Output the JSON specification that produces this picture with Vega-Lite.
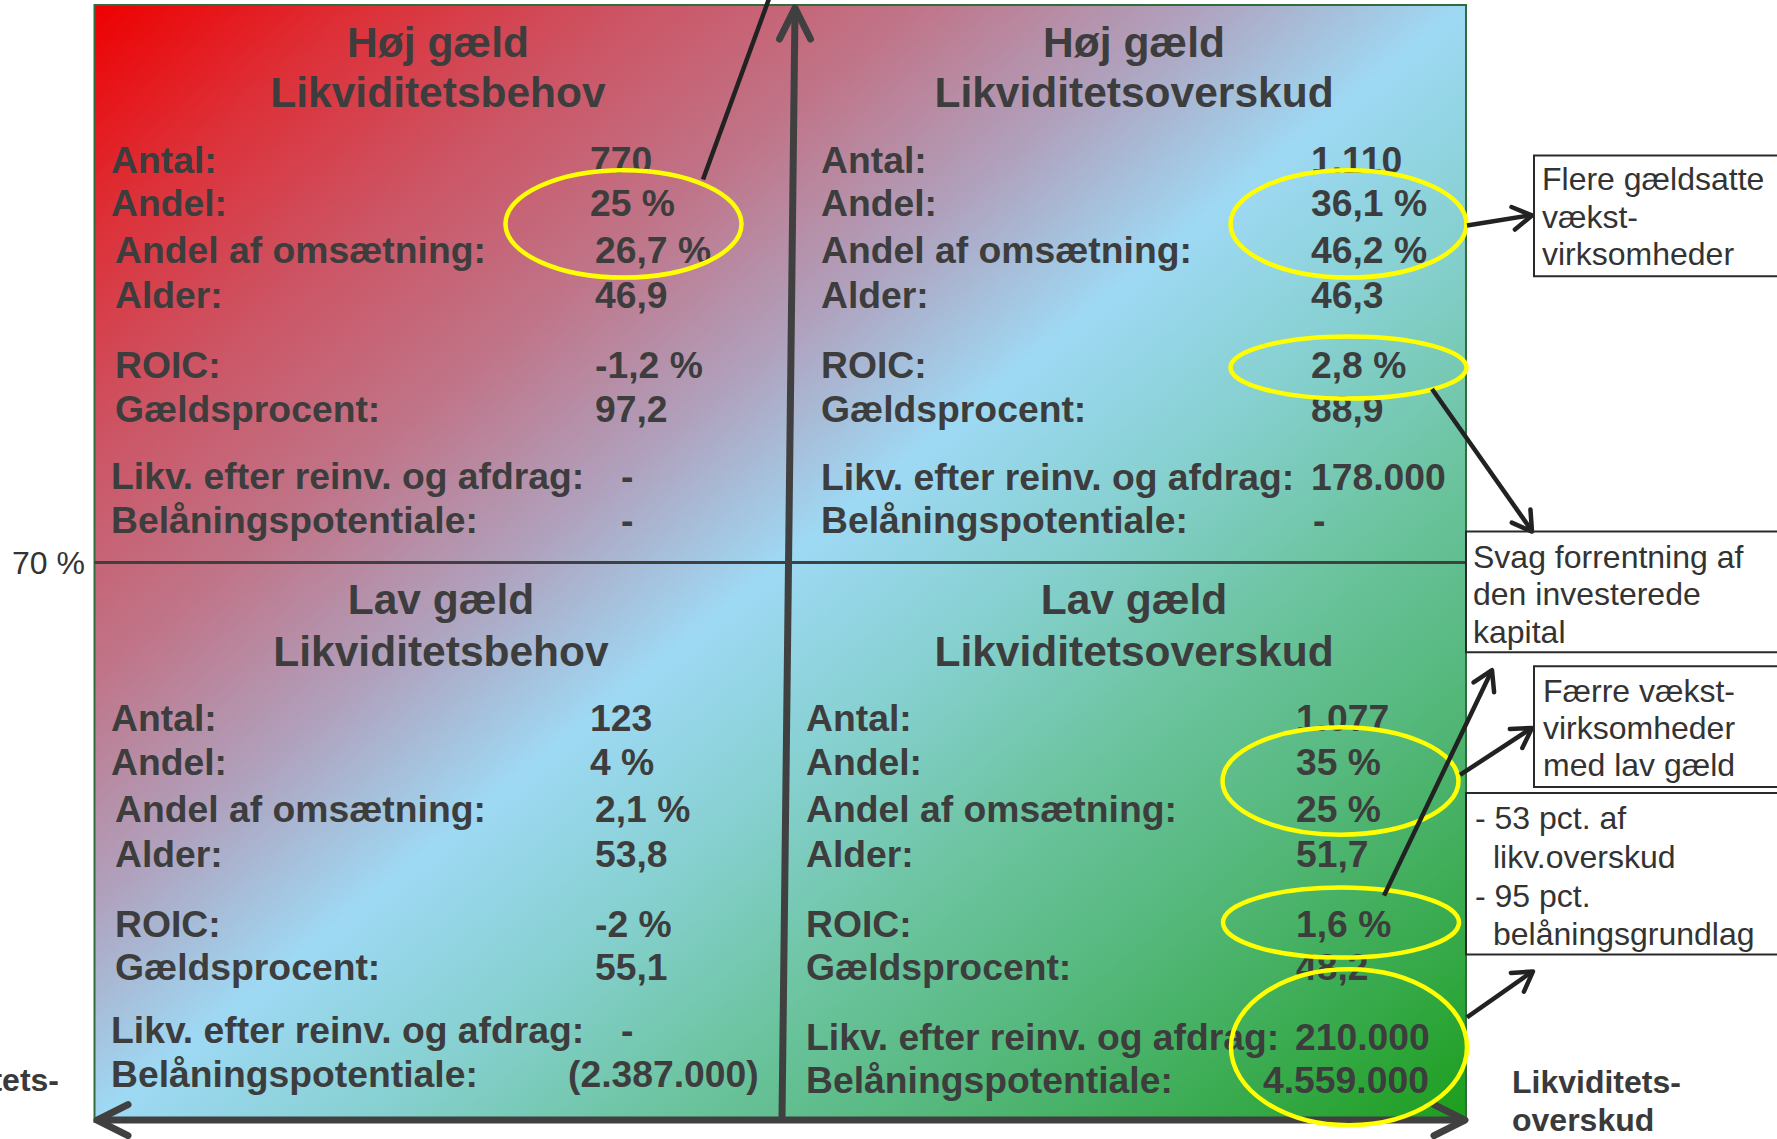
{
  "$schema": "https://vega.github.io/schema/vega-lite/v6.json",
  "autosize": {"type": "fit", "contains": "padding"},
  "width": 1777,
  "height": 1139,
  "padding": 0,
  "background": "white",
  "config": {"view": {"stroke": null}},
  "datasets": {
    "bg": [{"x": 94.5, "x2": 1466, "y": 5, "y2": 1125}],
    "divider": [{"x": 94.5, "x2": 1466, "y": 564, "y2": 564}],
    "axisShafts": [
      {"x": 782, "y": 1122, "x2": 795, "y2": 10},
      {"x": 99, "y": 1123, "x2": 1463, "y2": 1123}
    ],
    "axisHeads": [
      {"x": 795, "y": 8, "dir": -90},
      {"x": 97, "y": 1123, "dir": 180},
      {"x": 1465, "y": 1123, "dir": 0}
    ],
    "titles": [
      {"x": 438, "y": 57, "text": "Høj gæld"},
      {"x": 438, "y": 107, "text": "Likviditetsbehov"},
      {"x": 1134, "y": 57, "text": "Høj gæld"},
      {"x": 1134, "y": 107, "text": "Likviditetsoverskud"},
      {"x": 441, "y": 616, "text": "Lav gæld"},
      {"x": 441, "y": 668, "text": "Likviditetsbehov"},
      {"x": 1134, "y": 616, "text": "Lav gæld"},
      {"x": 1134, "y": 668, "text": "Likviditetsoverskud"}
    ],
    "cells": [
      {"x": 111, "y": 173, "text": "Antal:"},
      {"x": 111, "y": 217, "text": "Andel:"},
      {"x": 115, "y": 264, "text": "Andel af omsætning:"},
      {"x": 115, "y": 309, "text": "Alder:"},
      {"x": 115, "y": 379, "text": "ROIC:"},
      {"x": 115, "y": 423, "text": "Gældsprocent:"},
      {"x": 111, "y": 490, "text": "Likv. efter reinv. og afdrag:"},
      {"x": 111, "y": 534, "text": "Belåningspotentiale:"},
      {"x": 590, "y": 173, "text": "770"},
      {"x": 590, "y": 217, "text": "25 %"},
      {"x": 595, "y": 264, "text": "26,7 %"},
      {"x": 595, "y": 309, "text": "46,9"},
      {"x": 595, "y": 379, "text": "-1,2 %"},
      {"x": 595, "y": 423, "text": "97,2"},
      {"x": 621, "y": 490, "text": "-"},
      {"x": 621, "y": 534, "text": "-"},
      {"x": 821, "y": 173, "text": "Antal:"},
      {"x": 821, "y": 217, "text": "Andel:"},
      {"x": 821, "y": 264, "text": "Andel af omsætning:"},
      {"x": 821, "y": 309, "text": "Alder:"},
      {"x": 821, "y": 379, "text": "ROIC:"},
      {"x": 821, "y": 423, "text": "Gældsprocent:"},
      {"x": 821, "y": 491, "text": "Likv. efter reinv. og afdrag:"},
      {"x": 821, "y": 534, "text": "Belåningspotentiale:"},
      {"x": 1311, "y": 173, "text": "1.110"},
      {"x": 1311, "y": 217, "text": "36,1 %"},
      {"x": 1311, "y": 264, "text": "46,2 %"},
      {"x": 1311, "y": 309, "text": "46,3"},
      {"x": 1311, "y": 379, "text": "2,8 %"},
      {"x": 1311, "y": 423, "text": "88,9"},
      {"x": 1311, "y": 491, "text": "178.000"},
      {"x": 1313, "y": 534, "text": "-"},
      {"x": 111, "y": 733, "text": "Antal:"},
      {"x": 111, "y": 777, "text": "Andel:"},
      {"x": 115, "y": 824, "text": "Andel af omsætning:"},
      {"x": 115, "y": 869, "text": "Alder:"},
      {"x": 115, "y": 939, "text": "ROIC:"},
      {"x": 115, "y": 983, "text": "Gældsprocent:"},
      {"x": 111, "y": 1046, "text": "Likv. efter reinv. og afdrag:"},
      {"x": 111, "y": 1090, "text": "Belåningspotentiale:"},
      {"x": 590, "y": 733, "text": "123"},
      {"x": 590, "y": 777, "text": "4 %"},
      {"x": 595, "y": 824, "text": "2,1 %"},
      {"x": 595, "y": 869, "text": "53,8"},
      {"x": 595, "y": 939, "text": "-2 %"},
      {"x": 595, "y": 983, "text": "55,1"},
      {"x": 621, "y": 1046, "text": "-"},
      {"x": 568, "y": 1090, "text": "(2.387.000)"},
      {"x": 806, "y": 733, "text": "Antal:"},
      {"x": 806, "y": 777, "text": "Andel:"},
      {"x": 806, "y": 824, "text": "Andel af omsætning:"},
      {"x": 806, "y": 869, "text": "Alder:"},
      {"x": 806, "y": 939, "text": "ROIC:"},
      {"x": 806, "y": 983, "text": "Gældsprocent:"},
      {"x": 806, "y": 1053, "text": "Likv. efter reinv. og afdrag:"},
      {"x": 806, "y": 1096, "text": "Belåningspotentiale:"},
      {"x": 1296, "y": 733, "text": "1.077"},
      {"x": 1296, "y": 777, "text": "35 %"},
      {"x": 1296, "y": 824, "text": "25 %"},
      {"x": 1296, "y": 869, "text": "51,7"},
      {"x": 1296, "y": 939, "text": "1,6 %"},
      {"x": 1296, "y": 983, "text": "48,2"},
      {"x": 1295, "y": 1053, "text": "210.000"},
      {"x": 1263, "y": 1096, "text": "4.559.000"}
    ],
    "ellipses": [
      {"x": 623.5, "y": 224.5, "kind": "a"},
      {"x": 1348.5, "y": 224.5, "kind": "a"},
      {"x": 1348.5, "y": 368.5, "kind": "b"},
      {"x": 1340.5, "y": 783, "kind": "a"},
      {"x": 1341, "y": 925, "kind": "c"},
      {"x": 1349, "y": 1050, "kind": "d"}
    ],
    "thin": [
      {"x": 703, "y": 180, "x2": 770, "y2": -4},
      {"x": 1467, "y": 226, "x2": 1530, "y2": 216},
      {"x": 1432, "y": 390, "x2": 1531, "y2": 531},
      {"x": 1384, "y": 898, "x2": 1491, "y2": 674},
      {"x": 1460, "y": 777, "x2": 1530, "y2": 731},
      {"x": 1467, "y": 1020, "x2": 1531, "y2": 975}
    ],
    "thinHeads": [
      {"x": 1532, "y": 216, "dir": -8.7},
      {"x": 1532, "y": 533, "dir": 55},
      {"x": 1492, "y": 672, "dir": -64.5},
      {"x": 1532, "y": 730, "dir": -33.1},
      {"x": 1533, "y": 974, "dir": -34.9}
    ],
    "boxes": [
      {"x": 1534, "x2": 1800, "y": 156, "y2": 277},
      {"x": 1466, "x2": 1800, "y": 533, "y2": 654},
      {"x": 1534, "x2": 1800, "y": 668, "y2": 789},
      {"x": 1466, "x2": 1800, "y": 795, "y2": 957}
    ],
    "notes": [
      {"x": 1542, "y": 191, "text": "Flere gældsatte"},
      {"x": 1542, "y": 229, "text": "vækst-"},
      {"x": 1542, "y": 266, "text": "virksomheder"},
      {"x": 1473, "y": 569, "text": "Svag forrentning af"},
      {"x": 1473, "y": 607, "text": "den investerede"},
      {"x": 1473, "y": 645, "text": "kapital"},
      {"x": 1543, "y": 704, "text": "Færre vækst-"},
      {"x": 1543, "y": 741, "text": "virksomheder"},
      {"x": 1543, "y": 778, "text": "med lav gæld"},
      {"x": 1475, "y": 831, "text": "- 53 pct. af"},
      {"x": 1493, "y": 870, "text": "likv.overskud"},
      {"x": 1475, "y": 909, "text": "- 95 pct."},
      {"x": 1493, "y": 947, "text": "belåningsgrundlag"},
      {"x": 12, "y": 576, "text": "70 %"}
    ],
    "axisTitlesRight": [
      {"x": 1512, "y": 1096, "text": "Likviditets-"},
      {"x": 1512, "y": 1134, "text": "overskud"}
    ],
    "axisTitlesLeft": [
      {"x": 59, "y": 1094, "text": "Likviditets-"}
    ]
  },
  "encoding": {
    "x": {"field": "x", "type": "quantitative", "scale": {"domain": [0, 1777], "nice": false, "zero": false}, "axis": null},
    "y": {"field": "y", "type": "quantitative", "scale": {"domain": [0, 1139], "nice": false, "zero": false, "reverse": true}, "axis": null}
  },
  "layer": [
    {
      "data": {"name": "bg"},
      "mark": {
        "type": "rect",
        "stroke": "#2f6e3c",
        "strokeWidth": 2,
        "fill": {
          "gradient": "linear", "x1": 0, "y1": 0, "x2": 1, "y2": 1,
          "stops": [
            {"offset": 0, "color": "#ee0000"},
            {"offset": 0.1, "color": "#dd3038"},
            {"offset": 0.2, "color": "#cc5565"},
            {"offset": 0.3, "color": "#c07488"},
            {"offset": 0.4, "color": "#b0a0bc"},
            {"offset": 0.5, "color": "#9ed9f4"},
            {"offset": 0.6, "color": "#86d0d0"},
            {"offset": 0.7, "color": "#6cc4a0"},
            {"offset": 0.8, "color": "#55b87c"},
            {"offset": 0.9, "color": "#3aab50"},
            {"offset": 1, "color": "#1c9e1c"}
          ]
        }
      },
      "encoding": {"x2": {"field": "x2"}, "y2": {"field": "y2"}}
    },
    {
      "data": {"name": "divider"},
      "mark": {"type": "rule", "color": "#404040", "strokeWidth": 3},
      "encoding": {"x2": {"field": "x2"}, "y2": {"field": "y2"}}
    },
    {
      "data": {"name": "axisShafts"},
      "mark": {"type": "rule", "color": "#404040", "strokeWidth": 7},
      "encoding": {"x2": {"field": "x2"}, "y2": {"field": "y2"}}
    },
    {
      "data": {"name": "axisHeads"},
      "mark": {"type": "point", "shape": "M-1,-0.5L0,0L-1,0.5", "filled": false, "stroke": "#404040", "strokeWidth": 7, "strokeCap": "round", "strokeJoin": "round", "opacity": 1, "size": 3844},
      "encoding": {"angle": {"field": "dir", "type": "quantitative", "scale": null}}
    },
    {
      "data": {"name": "titles"},
      "mark": {"type": "text", "align": "center", "baseline": "alphabetic", "font": "Liberation Sans, Arial, sans-serif", "fontWeight": "bold", "fontSize": 42.5, "color": "#3d3d3d"},
      "encoding": {"text": {"field": "text"}}
    },
    {
      "data": {"name": "cells"},
      "mark": {"type": "text", "align": "left", "baseline": "alphabetic", "font": "Liberation Sans, Arial, sans-serif", "fontWeight": "bold", "fontSize": 37.3, "color": "#3d3d3d"},
      "encoding": {"text": {"field": "text"}}
    },
    {
      "data": {"name": "ellipses"},
      "mark": {"type": "point", "filled": false, "stroke": "#ffff00", "strokeWidth": 4.5, "opacity": 1, "size": 55696},
      "encoding": {
        "shape": {
          "field": "kind", "type": "nominal", "legend": null,
          "scale": {
            "domain": ["a", "b", "c", "d"],
            "range": [
              "M-1,0C-1,-0.2513,-0.5523,-0.455,0,-0.455C0.5523,-0.455,1,-0.2513,1,0C1,0.2513,0.5523,0.455,0,0.455C-0.5523,0.455,-1,0.2513,-1,0Z",
              "M-1,0C-1,-0.1453,-0.5523,-0.263,0,-0.263C0.5523,-0.263,1,-0.1453,1,0C1,0.1453,0.5523,0.263,0,0.263C-0.5523,0.263,-1,0.1453,-1,0Z",
              "M-1,0C-1,-0.164,-0.5523,-0.297,0,-0.297C0.5523,-0.297,1,-0.164,1,0C1,0.164,0.5523,0.297,0,0.297C-0.5523,0.297,-1,0.164,-1,0Z",
              "M-1,0C-1,-0.3651,-0.5523,-0.661,0,-0.661C0.5523,-0.661,1,-0.3651,1,0C1,0.3651,0.5523,0.661,0,0.661C-0.5523,0.661,-1,0.3651,-1,0Z"
            ]
          }
        }
      }
    },
    {
      "data": {"name": "thin"},
      "mark": {"type": "rule", "color": "#222222", "strokeWidth": 4.5, "clip": true},
      "encoding": {"x2": {"field": "x2"}, "y2": {"field": "y2"}}
    },
    {
      "data": {"name": "thinHeads"},
      "mark": {"type": "point", "shape": "M-1,-0.6L0,0L-1,0.6", "filled": false, "stroke": "#222222", "strokeWidth": 4.5, "strokeCap": "round", "strokeJoin": "round", "opacity": 1, "size": 1444},
      "encoding": {"angle": {"field": "dir", "type": "quantitative", "scale": null}}
    },
    {
      "data": {"name": "boxes"},
      "mark": {"type": "rect", "filled": false, "stroke": "#2a2a2a", "strokeWidth": 2, "clip": true},
      "encoding": {"x2": {"field": "x2"}, "y2": {"field": "y2"}}
    },
    {
      "data": {"name": "notes"},
      "mark": {"type": "text", "align": "left", "baseline": "alphabetic", "font": "Liberation Sans, Arial, sans-serif", "fontSize": 32, "color": "#333333"},
      "encoding": {"text": {"field": "text"}}
    },
    {
      "data": {"name": "axisTitlesRight"},
      "mark": {"type": "text", "align": "left", "baseline": "alphabetic", "font": "Liberation Sans, Arial, sans-serif", "fontWeight": "bold", "fontSize": 32, "color": "#3a3a3a", "clip": true},
      "encoding": {"text": {"field": "text"}}
    },
    {
      "data": {"name": "axisTitlesLeft"},
      "mark": {"type": "text", "align": "right", "baseline": "alphabetic", "font": "Liberation Sans, Arial, sans-serif", "fontWeight": "bold", "fontSize": 32, "color": "#3a3a3a", "clip": true},
      "encoding": {"text": {"field": "text"}}
    }
  ]
}
